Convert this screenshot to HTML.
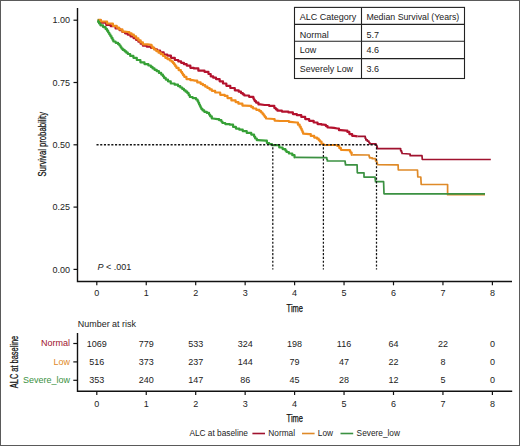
<!DOCTYPE html>
<html><head><meta charset="utf-8"><style>
html,body{margin:0;padding:0;background:#fff}
body{width:520px;height:446px;overflow:hidden}
svg{display:block}
.t{font-family:"Liberation Sans",sans-serif;font-size:9px;fill:#222}
.c{font-family:"Liberation Sans",sans-serif;font-size:10px;fill:#111}
.l{font-size:8.3px}
.b{stroke:#111;stroke-width:0.25px}
.bb{font-size:10.8px;stroke:#111;stroke-width:0.25px}
</style></head><body>
<svg width="520" height="446" viewBox="0 0 520 446">
<rect x="0.5" y="0.5" width="519" height="445" fill="#fff" stroke="#5a5a5a" stroke-width="1"/>
<path d="M77.5,8 V281.5 H512" fill="none" stroke="#111" stroke-width="1.4"/>
<path d="M73.5,20.2 H77.5" stroke="#111" stroke-width="1.2"/>
<text x="70" y="23.4" text-anchor="end" class="t">1.00</text>
<path d="M73.5,82.5 H77.5" stroke="#111" stroke-width="1.2"/>
<text x="70" y="85.7" text-anchor="end" class="t">0.75</text>
<path d="M73.5,144.8 H77.5" stroke="#111" stroke-width="1.2"/>
<text x="70" y="148.0" text-anchor="end" class="t">0.50</text>
<path d="M73.5,207.1 H77.5" stroke="#111" stroke-width="1.2"/>
<text x="70" y="210.29999999999998" text-anchor="end" class="t">0.25</text>
<path d="M73.5,269.4 H77.5" stroke="#111" stroke-width="1.2"/>
<text x="70" y="272.59999999999997" text-anchor="end" class="t">0.00</text>
<path d="M96.80,281.5 V285.3" stroke="#111" stroke-width="1.2"/>
<text x="96.80" y="296.2" text-anchor="middle" class="t">0</text>
<path d="M146.25,281.5 V285.3" stroke="#111" stroke-width="1.2"/>
<text x="146.25" y="296.2" text-anchor="middle" class="t">1</text>
<path d="M195.70,281.5 V285.3" stroke="#111" stroke-width="1.2"/>
<text x="195.70" y="296.2" text-anchor="middle" class="t">2</text>
<path d="M245.15,281.5 V285.3" stroke="#111" stroke-width="1.2"/>
<text x="245.15" y="296.2" text-anchor="middle" class="t">3</text>
<path d="M294.60,281.5 V285.3" stroke="#111" stroke-width="1.2"/>
<text x="294.60" y="296.2" text-anchor="middle" class="t">4</text>
<path d="M344.05,281.5 V285.3" stroke="#111" stroke-width="1.2"/>
<text x="344.05" y="296.2" text-anchor="middle" class="t">5</text>
<path d="M393.50,281.5 V285.3" stroke="#111" stroke-width="1.2"/>
<text x="393.50" y="296.2" text-anchor="middle" class="t">6</text>
<path d="M442.95,281.5 V285.3" stroke="#111" stroke-width="1.2"/>
<text x="442.95" y="296.2" text-anchor="middle" class="t">7</text>
<path d="M492.40,281.5 V285.3" stroke="#111" stroke-width="1.2"/>
<text x="492.40" y="296.2" text-anchor="middle" class="t">8</text>
<text x="294.8" y="312" text-anchor="middle" class="c b" textLength="16.4" lengthAdjust="spacingAndGlyphs">Time</text>
<text transform="translate(45.6,144.2) rotate(-90)" text-anchor="middle" class="c b" textLength="64.5" lengthAdjust="spacingAndGlyphs">Survival probability</text>
<text x="97.5" y="270.2" class="t"><tspan font-style="italic">P</tspan> &lt; .001</text>
<path d="M97.70,20.30H100.85V22.60H104.00H106.25V24.90H108.50H110.70V26.20H112.90H115.60V28.50H118.30H119.65V30.25H122.35V32.00H123.70H125.05V33.35H127.75V34.70H129.10H130.57V36.40H133.53V38.10H135.00H136.12V39.90H138.38V41.70H139.50H140.62V43.70H142.88V45.70H144.00H146.65V46.60H149.30H151.10V47.90H152.90H154.25V49.25H156.95V50.60H158.30H160.10V52.40H161.90H163.70V54.70H165.50H167.30V55.60H169.10H170.90V57.80H172.70H174.80V60.00H176.90H178.30V61.40H181.10V62.80H182.50H183.90V64.20H186.70V65.60H188.10H190.35V67.80H192.60H193.80V68.40H195.00H198.35V70.70H201.70H204.50V71.80H207.30H208.45V74.00H209.60H210.70V76.30H211.80H213.20V77.70H216.00V79.10H217.40H219.65V81.30H221.90H223.00V83.50H224.10H226.35V85.80H228.60H230.30V88.00H232.00H234.80V90.30H237.60H238.72V91.70H240.97V93.10H242.10H242.82V94.30H244.28V95.50H245.00H249.05V96.80H253.10H253.32V98.15H253.78V99.50H254.00H254.68V101.05H256.02V102.60H256.70H258.45V104.40H260.20L264.70,105.00H269.20V105.90H273.70H274.35V108.00H275.00H275.80V109.35H277.40V110.70H278.20H281.90V111.60H285.60H288.40V112.40H291.20H292.90V114.10H294.60H296.85V115.20H299.10H301.30V116.90H303.50H305.20V119.10H306.90H309.15V120.80H311.40H313.65V122.50H315.90H317.55V124.10H319.20H321.45V124.70H323.70L325.00,124.80H325.85V126.10H327.55V127.40H328.40L334.00,127.90L337.30,128.50H339.00V130.20H340.70L346.30,130.70H347.40V131.90H348.50H349.35V134.10H350.20H352.15V135.80H354.10L357.50,136.30" fill="none" stroke="#b4122e" stroke-width="2.2" stroke-linejoin="round"/>
<path d="M357.50,136.30L364.90,136.40H365.22V138.15H365.88V139.90H366.20H367.35V141.20H368.50H368.93V142.55H369.77V143.90H370.20L375.60,143.90H376.00V145.25H376.80V146.60H377.20L377.40,148.70L400.10,148.70H400.65V150.70H401.20H401.48V152.10H402.02V153.50H402.30L409.60,154.00H410.15V155.70H410.70L422.00,155.70L422.30,159.50L490.80,159.50" fill="none" stroke="#a0122e" stroke-width="1.7" stroke-linejoin="round"/>
<path d="M97.70,19.90H100.85V21.50H104.00H107.10V23.50H110.20H112.90V25.80H115.60H116.72V27.55H118.97V29.30H120.10H122.35V31.60H124.60L128.20,32.00H129.32V33.35H131.57V34.70H132.70H133.85V36.30H135.00H136.12V38.30H138.38V40.30H139.50H140.62V42.30H142.88V44.30H144.00L147.60,44.30L151.10,44.80H151.55V46.35H152.45V47.90H152.90H154.03V49.50H156.28V51.10H157.40H158.53V52.65H160.78V54.20H161.90H163.03V56.00H165.28V57.80H166.40H167.53V59.15H169.78V60.50H170.90H171.65V61.70H172.40H172.97V63.10H174.12V64.50H174.70H175.25V66.15H176.35V67.80H176.90H178.60V70.10H180.30H180.85V71.80H181.95V73.50H182.50H183.07V75.15H184.23V76.80H184.80H186.45V79.10H188.10H190.35V80.20H192.60L195.00,80.60H197.25V82.40H199.50H200.62V83.80H202.88V85.20H204.00H205.12V86.60H207.38V88.00H208.50H209.60V89.40H211.80V90.80H212.90H215.15V92.50H217.40H220.20V94.80H223.00H224.70V95.90H226.40H227.50V98.10H228.60H231.40V100.40H234.20H235.60V102.05H238.40V103.70H239.80H242.40V105.60H245.00L250.40,105.80H251.30V107.15H253.10V108.50H254.00H256.25V109.80H258.50H259.38V111.15H261.12V112.50H262.00H262.56V114.00H263.69V115.50H264.81V117.00H265.94V118.50H266.50L273.70,119.00H274.60V120.60H275.50L280.00,121.00L287.80,121.00H288.95V121.90H290.10L296.80,122.50H297.95V124.70H299.10H299.65V126.65H300.75V128.60H301.30H301.67V130.30H302.40V132.00H303.13V133.70H303.50L309.10,134.20H310.80V135.90H312.50H314.20V137.60H315.90H317.00V138.70H318.10H318.68V140.10H319.82V141.50H320.40H321.50V143.80H322.60H323.40V145.00H324.20L336.20,145.00H337.35V145.90H338.50H339.30V148.10H340.10H340.95V149.80H341.80L349.70,150.20H349.98V151.40H350.52V152.60H350.80H351.65V154.80H352.50" fill="none" stroke="#f08c1c" stroke-width="2.2" stroke-linejoin="round"/>
<path d="M352.50,154.80L368.90,155.00H369.12V156.40H369.57V157.80H369.80H372.25V158.70H374.70H375.60V160.90H376.50H376.77V162.75H377.33V164.60H377.60L398.10,164.80L398.30,170.00L417.50,170.00L417.80,177.00L420.80,177.00L421.20,184.50L447.60,184.50L447.60,194.70L485.00,194.70" fill="none" stroke="#df8a28" stroke-width="1.7" stroke-linejoin="round"/>
<path d="M97.70,20.40H98.15V21.95H99.05V23.50H99.50H100.40V25.30H101.30H103.10V27.10H104.90H105.58V28.90H106.92V30.70H107.60H108.15V32.50H109.25V34.30H109.80H110.35V36.10H111.45V37.90H112.00H112.45V39.70H113.35V41.50H113.80H115.60V42.80H117.40H118.08V44.15H119.42V45.50H120.10H120.55V47.05H121.45V48.60H121.90H122.80V49.95H124.60V51.30H125.50H126.28V52.65H127.82V54.00H128.60H130.20V55.90H133.40V57.80H135.00H136.80V60.00H138.60H140.40V62.30H142.20H144.45V64.10H146.70H148.35V65.50H150.00H150.85V66.95H152.55V68.40H153.40H154.50V69.80H156.70V71.20H157.80H158.93V72.90H161.18V74.60H162.30H162.88V76.25H164.03V77.90H164.60H165.72V79.60H167.97V81.30H169.10H170.75V83.50H172.40H174.65V84.70H176.90H178.03V86.10H180.28V87.50H181.40H182.25V88.90H183.95V90.30H184.80H185.62V91.70H187.28V93.10H188.10H188.68V95.05H189.82V97.00H190.40H192.60V98.10H194.80H196.00V99.50H197.20H197.58V101.17H198.35V102.83H199.12V104.50H199.50H199.87V106.00H200.60V107.50H201.33V109.00H201.70H202.55V110.40H204.25V111.80H205.10H206.80V112.90H208.50H209.05V114.60H210.15V116.30H210.70H211.80V118.50H212.90L217.40,119.10H219.10V120.20H220.80H221.35V121.60H222.45V123.00H223.00H225.25V124.10H227.50H229.75V124.70H232.00H233.10V126.90H234.20H235.90V128.60H237.60H239.30V129.70H241.00H242.75V131.20H244.50H246.75V132.90H249.00H251.25V134.60H253.50H254.05V136.55H255.15V138.50H255.70H256.80V140.20H257.90L265.80,140.70H266.90V143.00H268.00H269.15V144.10H270.30H271.95V145.20H273.60L278.10,145.20H279.25V147.50H280.40H282.60V149.10H284.80H285.38V150.55H286.53V152.00H287.10H288.85V153.50H290.60H292.30V155.20H294.00H294.55V157.40H295.10" fill="none" stroke="#36a036" stroke-width="2.2" stroke-linejoin="round"/>
<path d="M295.10,157.40L326.50,157.60H326.77V159.25H327.33V160.90H327.60L345.00,161.00H345.15V162.90H345.45V164.80H345.60L357.10,164.80L357.30,172.80L364.00,172.80L364.00,177.10L375.00,177.10H375.10V178.63H375.30V180.17H375.50V181.70H375.60L383.60,181.70L384.00,193.80L485.00,193.80" fill="none" stroke="#3b9142" stroke-width="1.7" stroke-linejoin="round"/>
<path d="M96.5,144.75 H376.5" fill="none" stroke="#151515" stroke-width="1.3" stroke-dasharray="2.1 1.604"/>
<path d="M272.8,144.8 V269.4 M323.4,144.8 V269.4 M376.5,144.8 V269.4" fill="none" stroke="#151515" stroke-width="1.25" stroke-dasharray="2.1 1.676" stroke-dashoffset="1.226"/>
<rect x="294.5" y="7.4" width="170" height="71.1" fill="#fff" stroke="#222" stroke-width="1.1"/>
<path d="M294.5,24.4 H464.5 M294.5,41.3 H464.5 M294.5,58.6 H464.5 M361.5,7.4 V78.5" stroke="#222" stroke-width="1.1"/>
<text x="299.8" y="20.3" class="t">ALC Category</text><text x="366.4" y="20.3" class="t" textLength="92.9" lengthAdjust="spacingAndGlyphs">Median Survival (Years)</text>
<text x="299.8" y="37.7" class="t">Normal</text><text x="366.4" y="37.7" class="t">5.7</text>
<text x="299.8" y="53.0" class="t">Low</text><text x="366.4" y="53.0" class="t">4.6</text>
<text x="299.8" y="71.8" class="t" textLength="53.2" lengthAdjust="spacingAndGlyphs">Severely Low</text><text x="366.4" y="71.8" class="t">3.6</text>
<text x="77.8" y="326.7" class="t" textLength="58.2" lengthAdjust="spacingAndGlyphs">Number at risk</text>
<path d="M77.5,333 V391.3 H512.2" fill="none" stroke="#111" stroke-width="1.4"/>
<path d="M73.3,343.5 H77.5" stroke="#111" stroke-width="1.2"/>
<text x="70" y="346.4" text-anchor="end" class="t" style="fill:#a0122e">Normal</text>
<text x="96.80" y="346.6" text-anchor="middle" class="t">1069</text>
<text x="146.25" y="346.6" text-anchor="middle" class="t">779</text>
<text x="195.70" y="346.6" text-anchor="middle" class="t">533</text>
<text x="245.15" y="346.6" text-anchor="middle" class="t">324</text>
<text x="294.60" y="346.6" text-anchor="middle" class="t">198</text>
<text x="344.05" y="346.6" text-anchor="middle" class="t">116</text>
<text x="393.50" y="346.6" text-anchor="middle" class="t">64</text>
<text x="442.95" y="346.6" text-anchor="middle" class="t">22</text>
<text x="492.40" y="346.6" text-anchor="middle" class="t">0</text>
<path d="M73.3,361.9 H77.5" stroke="#111" stroke-width="1.2"/>
<text x="70" y="364.79999999999995" text-anchor="end" class="t" style="fill:#df8a28">Low</text>
<text x="96.80" y="365.0" text-anchor="middle" class="t">516</text>
<text x="146.25" y="365.0" text-anchor="middle" class="t">373</text>
<text x="195.70" y="365.0" text-anchor="middle" class="t">237</text>
<text x="245.15" y="365.0" text-anchor="middle" class="t">144</text>
<text x="294.60" y="365.0" text-anchor="middle" class="t">79</text>
<text x="344.05" y="365.0" text-anchor="middle" class="t">47</text>
<text x="393.50" y="365.0" text-anchor="middle" class="t">22</text>
<text x="442.95" y="365.0" text-anchor="middle" class="t">8</text>
<text x="492.40" y="365.0" text-anchor="middle" class="t">0</text>
<path d="M73.3,380.3 H77.5" stroke="#111" stroke-width="1.2"/>
<text x="70" y="383.2" text-anchor="end" class="t" style="fill:#3b9142">Severe_low</text>
<text x="96.80" y="383.40000000000003" text-anchor="middle" class="t">353</text>
<text x="146.25" y="383.40000000000003" text-anchor="middle" class="t">240</text>
<text x="195.70" y="383.40000000000003" text-anchor="middle" class="t">147</text>
<text x="245.15" y="383.40000000000003" text-anchor="middle" class="t">86</text>
<text x="294.60" y="383.40000000000003" text-anchor="middle" class="t">45</text>
<text x="344.05" y="383.40000000000003" text-anchor="middle" class="t">28</text>
<text x="393.50" y="383.40000000000003" text-anchor="middle" class="t">12</text>
<text x="442.95" y="383.40000000000003" text-anchor="middle" class="t">5</text>
<text x="492.40" y="383.40000000000003" text-anchor="middle" class="t">0</text>
<path d="M96.80,391.3 V395" stroke="#111" stroke-width="1.2"/>
<text x="96.80" y="406.8" text-anchor="middle" class="t">0</text>
<path d="M146.25,391.3 V395" stroke="#111" stroke-width="1.2"/>
<text x="146.25" y="406.8" text-anchor="middle" class="t">1</text>
<path d="M195.70,391.3 V395" stroke="#111" stroke-width="1.2"/>
<text x="195.70" y="406.8" text-anchor="middle" class="t">2</text>
<path d="M245.15,391.3 V395" stroke="#111" stroke-width="1.2"/>
<text x="245.15" y="406.8" text-anchor="middle" class="t">3</text>
<path d="M294.60,391.3 V395" stroke="#111" stroke-width="1.2"/>
<text x="294.60" y="406.8" text-anchor="middle" class="t">4</text>
<path d="M344.05,391.3 V395" stroke="#111" stroke-width="1.2"/>
<text x="344.05" y="406.8" text-anchor="middle" class="t">5</text>
<path d="M393.50,391.3 V395" stroke="#111" stroke-width="1.2"/>
<text x="393.50" y="406.8" text-anchor="middle" class="t">6</text>
<path d="M442.95,391.3 V395" stroke="#111" stroke-width="1.2"/>
<text x="442.95" y="406.8" text-anchor="middle" class="t">7</text>
<path d="M492.40,391.3 V395" stroke="#111" stroke-width="1.2"/>
<text x="492.40" y="406.8" text-anchor="middle" class="t">8</text>
<text x="294.8" y="421.6" text-anchor="middle" class="c b" textLength="16.4" lengthAdjust="spacingAndGlyphs">Time</text>
<text transform="translate(17.8,362) rotate(-90)" text-anchor="middle" class="c bb" textLength="52.3" lengthAdjust="spacingAndGlyphs">ALC at baseline</text>
<text x="189.4" y="436.1" class="t l">ALC at baseline</text>
<path d="M252.4,433.5 H265" stroke="#a0122e" stroke-width="1.6"/>
<text x="268.3" y="436.1" class="t l">Normal</text>
<path d="M302,433.5 H314.6" stroke="#df8a28" stroke-width="1.6"/>
<text x="317.8" y="436.1" class="t l">Low</text>
<path d="M340.5,433.5 H353.2" stroke="#3b9142" stroke-width="1.6"/>
<text x="356.6" y="436.1" class="t l">Severe_low</text>
</svg></body></html>
